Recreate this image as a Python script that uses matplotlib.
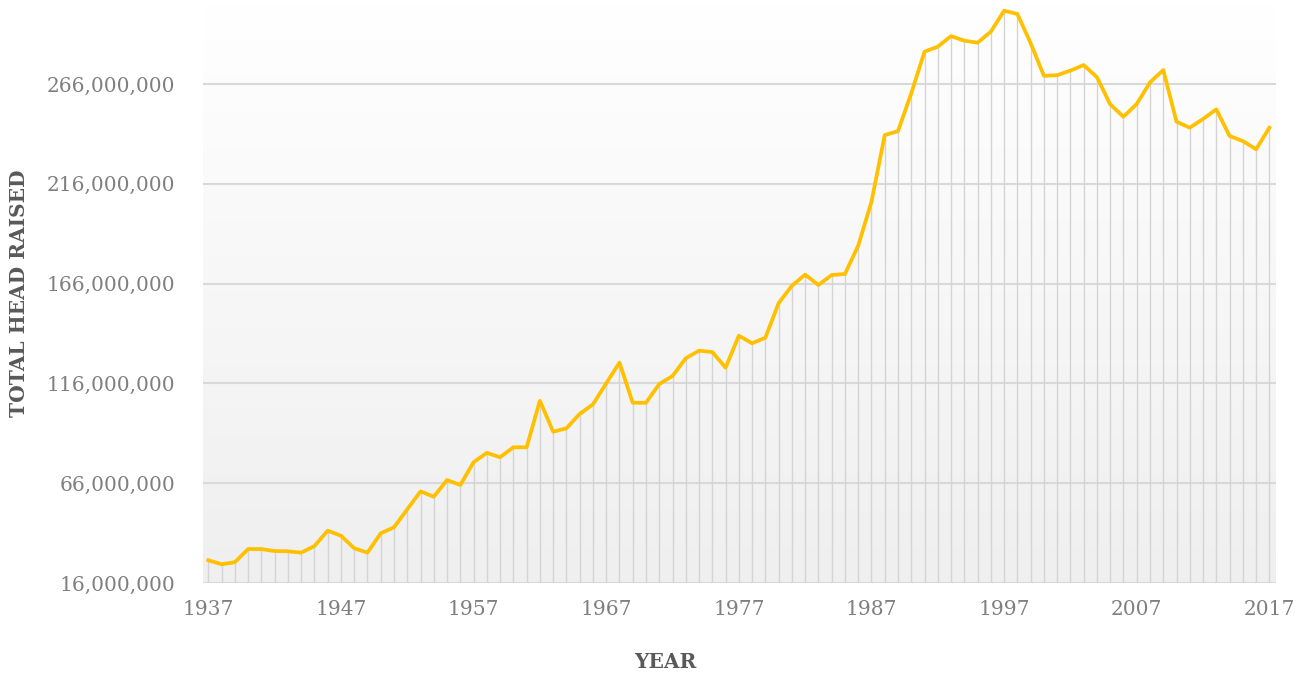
import numpy as np
import matplotlib.pyplot as plt
from matplotlib.ticker import FuncFormatter

years = list(range(1937, 2018))
head_raised_m = [
    27.4, 25.4, 26.4, 33.0, 33.0, 32.0, 31.9, 31.2, 34.5, 42.2,
    39.7, 33.4, 31.2, 40.9, 43.9, 52.9, 61.9, 59.2, 67.6, 65.1,
    76.5, 81.2, 79.0, 84.0, 84.0, 107.3, 91.8, 93.5, 100.7, 105.5,
    116.0, 126.4, 106.3, 106.3, 115.7, 119.7, 128.6, 132.4, 131.7, 123.9,
    139.9, 136.1, 138.9, 156.2, 164.9, 170.5, 165.3, 170.3, 170.8, 185.0,
    207.0, 240.4, 242.4, 261.3, 282.2, 284.7, 290.0, 287.7, 286.7, 292.2,
    302.7, 301.1, 286.5, 270.1, 270.4, 272.7, 275.5, 269.4, 255.8, 249.6,
    256.0, 266.8, 273.0, 247.1, 244.1, 248.5, 253.3, 240.0, 237.4, 233.3,
    244.1,
]
y_ticks = [16e6, 66e6, 116e6, 166e6, 216e6, 266e6]
x_ticks = list(range(1937, 2018, 10))

values = np.array(head_raised_m) * 1e6

W, H = 1306, 675
fig = plt.figure(figsize=(W / 100, H / 100), dpi=100)
ax = fig.add_axes([203 / W, (H - 583) / H, (1276 - 203) / W, (583 - 3) / H])

x0, x1 = 1937 - 0.4, 2017 + 0.5
y0, y1 = 16e6, 16e6 + 580 * 250e6 / 499
ax.set_xlim(x0, x1)
ax.set_ylim(y0, y1)

# background gradient, white at top to light grey at the bottom
grad = np.linspace(0, 1, 256).reshape(-1, 1)
ax.imshow(grad, extent=(x0, x1, y0, y1), aspect="auto", origin="upper",
          cmap=plt.matplotlib.colors.LinearSegmentedColormap.from_list(
              "bg", ["#ffffff", "#efefef"]), zorder=0)

for yt in y_ticks:
    ax.axhline(yt, color="#d9d9d9", lw=1.5, zorder=1)

ax.vlines(years, y0, values, color="#d4d4d4", lw=1.0, zorder=2)
ax.plot(years, values, color="#ffc000", lw=2.7, zorder=3, solid_joinstyle="round")

ax.set_yticks(y_ticks)
ax.yaxis.set_major_formatter(FuncFormatter(lambda v, p: f"{int(v):,}"))
ax.set_xticks(x_ticks)

for s in ax.spines.values():
    s.set_visible(False)
ax.tick_params(length=0, labelsize=14.5, labelcolor="#7f7f7f", pad=20)
ax.tick_params(axis="x", pad=12)
for lab in ax.get_xticklabels() + ax.get_yticklabels():
    lab.set_family("DejaVu Serif")

fig.text(19 / W, 1 - 293 / H, "TOTAL HEAD RAISED", rotation=90, ha="center", va="center",
         fontsize=14.5, fontweight="bold", color="#595959", family="DejaVu Serif")
fig.text(665 / W, 1 - 662 / H, "YEAR", ha="center", va="center",
         fontsize=14.5, fontweight="bold", color="#595959", family="DejaVu Serif")

fig.savefig("out.png", dpi=100)
